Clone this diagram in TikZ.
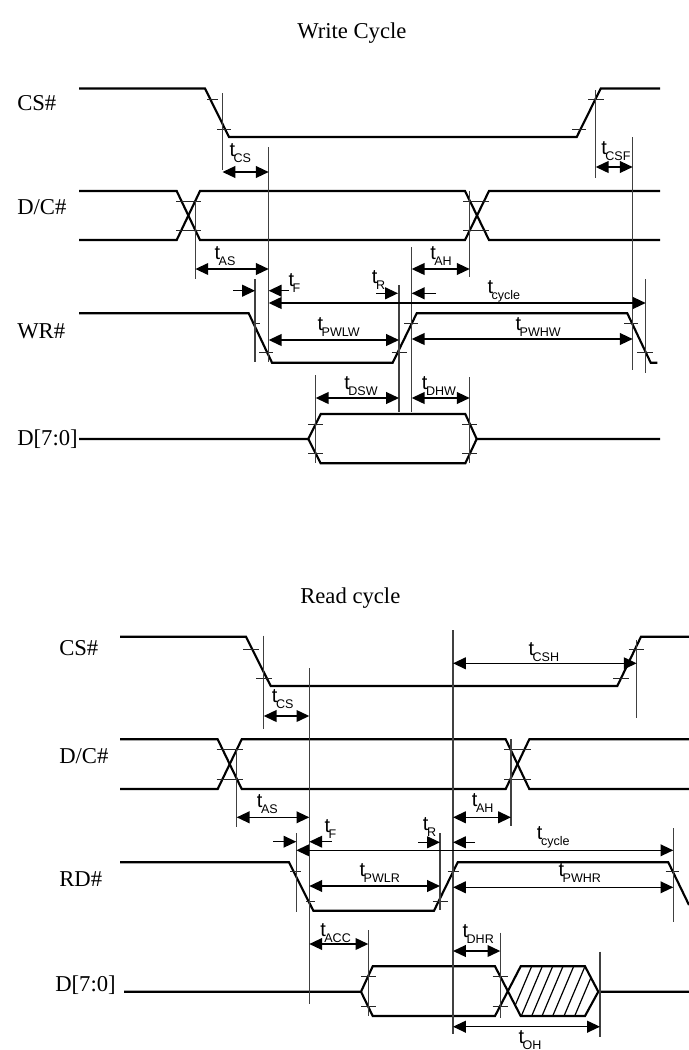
\documentclass[tikz,border=0pt]{standalone}
\usepackage{fontspec}
\setmainfont{Liberation Serif}
\setsansfont{Liberation Sans}
\usetikzlibrary{arrows.meta}
\newcommand{\tsub}[1]{t\kern-1.1pt\raisebox{-4.5pt}{\fontsize{9.4pt}{9.4pt}\selectfont #1}}
\tikzset{
  sigLine/.style={line width=1.6pt, line join=miter},
  refLine/.style={line width=0.85pt, black!75},
  tickLine/.style={line width=0.75pt, black!85},
  dimArrow/.style={line width=1.1pt, {Triangle[length=9.6pt,width=8.8pt]}-{Triangle[length=9.6pt,width=8.8pt]}},
  halfArrow/.style={line width=1.1pt, -{Triangle[length=9.6pt,width=8.8pt]}},
  sigLabel/.style={anchor=base west, inner sep=0pt, font=\fontsize{17pt}{17pt}\selectfont},
  timeLabel/.style={anchor=base west, inner sep=0pt, font=\sffamily\fontsize{15pt}{15pt}\selectfont}
}
\begin{document}
\begin{tikzpicture}[x=0.75pt, y=-0.75pt]
  \useasboundingbox (0,0) rectangle (689,1050);
  % write cycle
  \node[sigLabel] (writeTitle) at (297,38) {Write Cycle};
  \node[sigLabel] (wCsLabel) at (17,110.7) {CS\#};
  \node[sigLabel] (wDcLabel) at (17,214) {D/C\#};
  \node[sigLabel] (wWrLabel) at (17,338) {WR\#};
  \node[sigLabel] (wDataLabel) at (17,445) {D[7:0]};
  \draw[sigLine] (79,88.5) -- (205,88.5) -- (229,137) -- (576.7,137) -- (600.7,88.5) -- (660,88.5);
  \draw[sigLine] (79,191) -- (176.7,191) -- (200,240) -- (465,240) -- (489,191) -- (660,191);
  \draw[sigLine] (79,240) -- (176.7,240) -- (200,191) -- (465,191) -- (489,240) -- (660,240);
  \draw[sigLine] (79,313.3) -- (248.7,313.3) -- (272,362.7) -- (392.7,362.7) -- (416.7,313.3) -- (627.3,313.3) -- (650.7,362.7) -- (657.3,362.7);
  \draw[sigLine] (79,439) -- (308.3,439) -- (320.7,414) -- (465.3,414) -- (476.7,439) -- (660,439);
  \draw[sigLine] (308.3,439) -- (320.7,463.3) -- (465.3,463.3) -- (476.7,439);
  \foreach \xa/\xb/\ya in {207/218/99.5, 217/231/129, 572/586/129, 588/604/99.5, 176/201/201, 176/201/230, 463/489/201, 463/489/230, 251.7/260/323.3, 259/273/352.7, 391.7/406.7/352.7, 404/418/323.3, 624/638/323.3, 637/653/352.7, 308/322.7/424, 308/322.7/453.3, 462/477.3/424, 462/477.3/453.3}
    \draw[tickLine] (\xa,\ya) -- (\xb,\ya);
  \foreach \xa/\ya/\yb in {222.5/93/170, 595.7/90/178, 268.7/147/362, 632.7/137/370, 195.4/201/279, 469.7/191/277, 411.7/247/411.7, 255/279/361.7, 399/285/411.7, 645.7/279/372.7, 315.7/375/463.3, 469.7/377/463}
    \draw[refLine] (\xa,\ya) -- (\xa,\yb);
  \draw[dimArrow] (222.5,172) -- (268.7,172);
  \draw[dimArrow] (595.7,167) -- (632.7,167);
  \draw[dimArrow] (195.4,269) -- (268.7,269);
  \draw[dimArrow] (411.7,269) -- (469.7,269);
  \draw[dimArrow] (268.7,303) -- (645.7,303);
  \draw[dimArrow] (268.7,340) -- (399,340);
  \draw[dimArrow] (411.7,339) -- (632.7,339);
  \draw[dimArrow] (315.7,398) -- (399,398);
  \draw[dimArrow] (411.7,398) -- (469.7,398);
  \draw[halfArrow] (233,290.7) -- (255,290.7);
  \draw[halfArrow] (289,290.7) -- (268.7,290.7);
  \draw[halfArrow] (376,293.3) -- (398,293.3);
  \draw[halfArrow] (436,293.3) -- (411.7,293.3);
  \node[timeLabel] (wCs) at (229.3,156.7) {\tsub{CS}};
  \node[timeLabel] (wCsf) at (601,154) {\tsub{CSF}};
  \node[timeLabel] (wAs) at (214.3,259) {\tsub{AS}};
  \node[timeLabel] (wAh) at (430,259) {\tsub{AH}};
  \node[timeLabel] (wF) at (288.3,286.7) {\tsub{F}};
  \node[timeLabel] (wR) at (371.7,283.3) {\tsub{R}};
  \node[timeLabel] (wCycle) at (487.3,293.3) {\tsub{cycle}};
  \node[timeLabel] (wPwlw) at (317.3,330.7) {\tsub{PWLW}};
  \node[timeLabel] (wPwhw) at (515.3,330.7) {\tsub{PWHW}};
  \node[timeLabel] (wDsw) at (344,389.3) {\tsub{DSW}};
  \node[timeLabel] (wDhw) at (421.7,389.3) {\tsub{DHW}};
  % read cycle
  \node[sigLabel] (readTitle) at (300,603) {Read cycle};
  \node[sigLabel] (rCsLabel) at (59,655) {CS\#};
  \node[sigLabel] (rDcLabel) at (59,763) {D/C\#};
  \node[sigLabel] (rRdLabel) at (59,886) {RD\#};
  \node[sigLabel] (rDataLabel) at (55,991.7) {D[7:0]};
  \draw[sigLine] (120,636.7) -- (246,636.7) -- (270.7,686) -- (617.3,686) -- (641,636.7) -- (689,636.7);
  \draw[sigLine] (120,739.3) -- (217.7,739.3) -- (241.7,789) -- (505.7,789) -- (529.3,739.3) -- (689,739.3);
  \draw[sigLine] (120,789) -- (217.7,789) -- (241.7,739.3) -- (505.7,739.3) -- (529.3,789) -- (689,789);
  \draw[sigLine] (120,862.3) -- (289,862.3) -- (313.3,910.7) -- (434,910.7) -- (457.7,862.3) -- (668.3,862.3) -- (689,905);
  \draw[sigLine] (124,991.7) -- (361,991.7) -- (372.7,966.3) -- (495,966.3) -- (520.7,1016) -- (585,1016) -- (598.3,991.7) -- (689,991.7);
  \draw[sigLine] (361,991.7) -- (372.7,1016) -- (495,1016) -- (520.7,966.3) -- (585,966.3) -- (598.3,991.7);
  \begin{scope}
    \clip (498,966.3) -- (585,966.3) -- (598.3,991.7) -- (585,1016) -- (520.7,1016) -- cycle;
    \foreach \xa in {531.7,542.3,552.7,563,573.7,585,595.7}
      \draw[line width=0.9pt] (\xa,966.3) -- ({\xa-21},1016);
  \end{scope}
  \foreach \xa/\xb/\ya in {243.3/259/649, 256/272/678.3, 613/628.7/678.3, 628.7/644/649, 216.7/242.7/749.3, 216.7/242.7/779, 504/530.7/749.3, 504/530.7/779, 290/300.7/871.7, 306/315/901, 432.7/447.7/901, 447.7/459/871.7, 665.7/679/871.7, 361/376/976.7, 361/376/1006, 492.7/507.7/976.7, 492.7/507.7/1006}
    \draw[tickLine] (\xa,\ya) -- (\xb,\ya);
  \foreach \xa/\ya/\yb in {263.7/635.7/729.3, 636.7/640/718, 309.3/668.3/1004, 453/630/1034, 236.7/749/827.3, 511/739/825.7, 296.3/833.3/912.3, 440/833.3/910, 673.3/828.3/921.7, 368.3/930/1016, 500.3/932.7/1018, 600/951.7/1037}
    \draw[refLine] (\xa,\ya) -- (\xa,\yb);
  \draw[dimArrow] (453,663.3) -- (636.7,663.3);
  \draw[dimArrow] (263.7,716) -- (309.3,716);
  \draw[dimArrow] (236.7,817.3) -- (309.3,817.3);
  \draw[dimArrow] (453,817.3) -- (511,817.3);
  \draw[dimArrow] (296.3,850.3) -- (673.3,850.3);
  \draw[dimArrow] (309.3,886) -- (440,886);
  \draw[dimArrow] (453,887.3) -- (673.3,887.3);
  \draw[dimArrow] (309.3,944) -- (368.3,944);
  \draw[dimArrow] (453,951) -- (500.3,951);
  \draw[dimArrow] (453,1026.7) -- (600,1026.7);
  \draw[halfArrow] (273,841.7) -- (296.3,841.7);
  \draw[halfArrow] (331.7,841.7) -- (309.3,841.7);
  \draw[halfArrow] (418.3,842.3) -- (440,842.3);
  \draw[halfArrow] (475,842.3) -- (453,842.3);
  \node[timeLabel] (rCsh) at (528.3,655) {\tsub{CSH}};
  \node[timeLabel] (rCs) at (271.7,702.3) {\tsub{CS}};
  \node[timeLabel] (rAs) at (256.7,807.3) {\tsub{AS}};
  \node[timeLabel] (rAh) at (471.7,806.7) {\tsub{AH}};
  \node[timeLabel] (rF) at (324.3,832.7) {\tsub{F}};
  \node[timeLabel] (rR) at (422.7,830) {\tsub{R}};
  \node[timeLabel] (rCycle) at (536.7,839.3) {\tsub{cycle}};
  \node[timeLabel] (rPwlr) at (359.3,876) {\tsub{PWLR}};
  \node[timeLabel] (rPwhr) at (558.3,876) {\tsub{PWHR}};
  \node[timeLabel] (rAcc) at (320,936) {\tsub{ACC}};
  \node[timeLabel] (rDhr) at (462.3,937.7) {\tsub{DHR}};
  \node[timeLabel] (rOh) at (518.3,1043.3) {\tsub{OH}};
\end{tikzpicture}
\end{document}
